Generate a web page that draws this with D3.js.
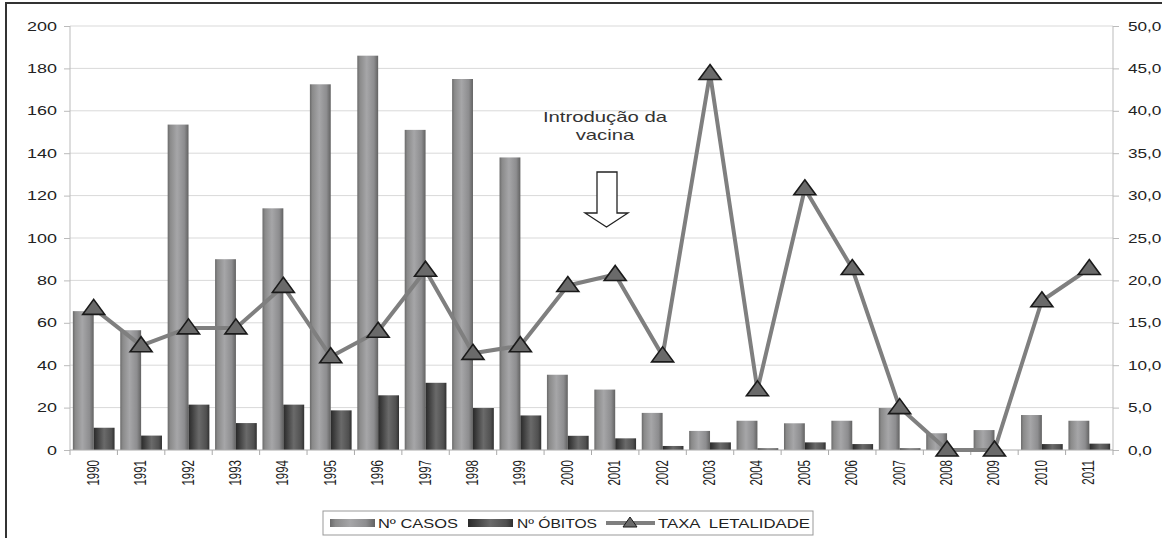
<!DOCTYPE html>
<html><head><meta charset="utf-8">
<script src="https://cdn.jsdelivr.net/npm/d3@7"></script>
<style>body{margin:0;background:#fff}svg{display:block;font-family:"Liberation Sans",Arial,sans-serif}</style>
</head><body><svg id="c" width="1162" height="538"></svg>
<script>
const years=["1990","1991","1992","1993","1994","1995","1996","1997","1998","1999","2000","2001","2002","2003","2004","2005","2006","2007","2008","2009","2010","2011"];
const casos=[65.5,56.5,153.5,90,114,172.5,186,151,175,138,35.5,28.5,17.5,9,13.8,12.6,13.8,19.8,7.9,9.4,16.5,13.8];
const obitos=[10.5,6.8,21.4,12.7,21.4,18.7,25.8,31.7,19.8,16.3,6.7,5.5,1.9,3.6,0.8,3.6,2.8,0.8,0,0,2.8,3];
const taxa=[16.7,12.3,14.4,14.4,19.3,11.0,14.0,21.2,11.4,12.3,19.4,20.7,11.1,44.4,7.1,30.8,21.4,5.0,0,0,17.6,21.4];
const leftTicks=[0,20,40,60,80,100,120,140,160,180,200];
const rightTicks=[0,5,10,15,20,25,30,35,40,45,50];
const legendLabels=["Nº CASOS","Nº ÓBITOS","TAXA  LETALIDADE"];

const svg=d3.select("#c");
const L=70,R=1113,T=26,B=450;
const x=d3.scaleBand().domain(years).range([L,R]).paddingInner(0.12).paddingOuter(0.06);
const xs=d3.scaleBand().domain(years).range([L,R]);
const y=d3.scaleLinear().domain([0,200]).range([B,T]);
const y2=d3.scaleLinear().domain([0,50]).range([B,T]);

function stretch(sel,k){sel.each(function(){const w=this.getComputedTextLength();this.setAttribute("textLength",w*k);this.setAttribute("lengthAdjust","spacingAndGlyphs");});}

const defs=svg.append("defs");
function grad(id,stops){const g=defs.append("linearGradient").attr("id",id).attr("x1","0").attr("x2","1").attr("y1","0").attr("y2","0");
 stops.forEach(s=>g.append("stop").attr("offset",s[0]).attr("stop-color",s[1]));}
grad("gc",[[0,"#6a6a6a"],[0.12,"#8a8a8a"],[0.45,"#a6a6a8"],[0.8,"#8d8d8f"],[1,"#626262"]]);
grad("go",[[0,"#2a2a2a"],[0.15,"#3c3c3c"],[0.5,"#6a6a6a"],[0.85,"#505050"],[1,"#303030"]]);

// frame
svg.append("rect").attr("x",6).attr("y",3).attr("width",1170).attr("height",545).attr("fill","none").attr("stroke","#333").attr("stroke-width",2);

// gridlines
svg.append("g").selectAll("line").data(leftTicks.slice(1)).join("line")
 .attr("x1",L).attr("x2",R).attr("y1",d=>y(d)).attr("y2",d=>y(d)).attr("stroke","#d9d9d9").attr("stroke-width",1);

// left axis
const ga=svg.append("g").attr("transform",`translate(${L},0)`).call(d3.axisLeft(y).tickValues(leftTicks).tickSize(6).tickPadding(7));
ga.selectAll("text").attr("font-size",13).attr("fill","#222").call(stretch,1.38);
ga.selectAll("line,path").attr("stroke","#bbb");
ga.select(".domain").attr("d",`M0,${T}V${B}`);
// right axis
const gr=svg.append("g").attr("transform",`translate(${R},0)`).call(d3.axisRight(y2).tickValues(rightTicks).tickFormat(d=>d3.format(".1f")(d).replace(".",",")).tickSize(6).tickPadding(9));
gr.selectAll("text").attr("font-size",13).attr("fill","#222").call(stretch,1.32);
gr.selectAll("line,path").attr("stroke","#bbb");
gr.select(".domain").attr("d",`M0,${T}V${B}`);

// bars
const bw=x.bandwidth()/2;
svg.append("g").selectAll("rect").data(years).join("rect")
 .attr("x",d=>x(d)).attr("width",bw).attr("y",(d,i)=>y(casos[i])).attr("height",(d,i)=>B-y(casos[i])).attr("fill","url(#gc)");
svg.append("g").selectAll("rect").data(years).join("rect")
 .attr("x",d=>x(d)+bw).attr("width",bw).attr("y",(d,i)=>y(obitos[i])).attr("height",(d,i)=>B-y(obitos[i])).attr("fill","url(#go)");

// x axis
svg.append("line").attr("x1",L).attr("x2",R).attr("y1",B).attr("y2",B).attr("stroke","#aaa");
svg.append("g").selectAll("line").data(years.concat(["end"])).join("line")
 .attr("x1",(d,i)=>L+i*xs.step()).attr("x2",(d,i)=>L+i*xs.step()).attr("y1",B).attr("y2",B+5).attr("stroke","#aaa");
svg.append("g").selectAll("text").data(years).join("text")
 .attr("transform",d=>`translate(${xs(d)+xs.bandwidth()/2+5},${B+10}) scale(1.45,1) rotate(-90)`)
 .attr("text-anchor","end").attr("font-size",11.5).attr("fill","#222").text(d=>d);

// line
const cx=d=>xs(d)+xs.bandwidth()/2;
svg.append("path").datum(years).attr("fill","none").attr("stroke","#7f7f7f").attr("stroke-width",4)
 .attr("stroke-linejoin","round")
 .attr("d",d3.line().x(d=>cx(d)).y((d,i)=>y2(taxa[i])));
const tri="M0,-9L11,6L-11,6Z";
svg.append("g").selectAll("path").data(years).join("path")
 .attr("transform",(d,i)=>`translate(${cx(d)},${y2(taxa[i])})`)
 .attr("d",tri).attr("fill","#6a6a6a").attr("stroke","#1a1a1a").attr("stroke-width",1.6);

// annotation
svg.append("text").attr("x",605).attr("y",122).attr("text-anchor","middle").attr("font-size",14.5).attr("fill","#333").text("Introdução da").call(stretch,1.4);
svg.append("text").attr("x",605).attr("y",140).attr("text-anchor","middle").attr("font-size",14.5).attr("fill","#333").text("vacina").call(stretch,1.4);
svg.append("path").attr("d","M597,172H617V213H628L606.5,227L585,213H597Z").attr("fill","#fff").attr("stroke","#222").attr("stroke-width",1.3);

// legend
const lg=svg.append("g");
lg.append("rect").attr("x",323).attr("y",511).attr("width",490).attr("height",24).attr("fill","#fff").attr("stroke","#999");
lg.append("rect").attr("x",330).attr("y",519).attr("width",45).attr("height",8).attr("fill","url(#gc)");
lg.append("text").attr("x",378).attr("y",528).attr("font-size",13).attr("fill","#222").text(legendLabels[0]).attr("textLength",80).attr("lengthAdjust","spacingAndGlyphs");
lg.append("rect").attr("x",468).attr("y",519).attr("width",45).attr("height",8).attr("fill","url(#go)");
lg.append("text").attr("x",517).attr("y",528).attr("font-size",13).attr("fill","#222").text(legendLabels[1]).attr("textLength",80).attr("lengthAdjust","spacingAndGlyphs");
lg.append("line").attr("x1",606).attr("x2",655).attr("y1",523).attr("y2",523).attr("stroke","#7f7f7f").attr("stroke-width",4);
lg.append("path").attr("transform","translate(630,523)").attr("d","M0,-6L7,4L-7,4Z").attr("fill","#6a6a6a").attr("stroke","#1a1a1a");
lg.append("text").attr("x",658).attr("y",528).attr("font-size",13).attr("fill","#222").attr("xml:space","preserve").text(legendLabels[2]).attr("textLength",152).attr("lengthAdjust","spacingAndGlyphs");
</script></body></html>
